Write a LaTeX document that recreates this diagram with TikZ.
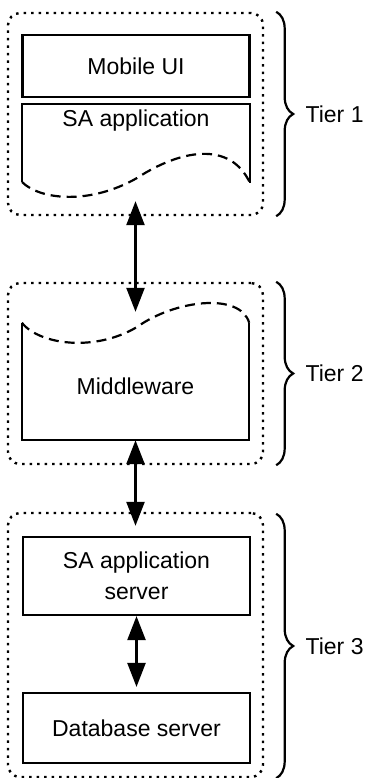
\documentclass[tikz,border=0pt]{standalone}
\usepackage{fontspec}
\setmainfont{Liberation Sans}
\usetikzlibrary{positioning, arrows.meta, decorations.pathreplacing}

\tikzset{
  tierbox/.style={draw, line width=2.4pt, dash pattern=on 2.5pt off 5pt,
                  rounded corners=12pt, minimum width=255pt},
  layerbox/.style={draw, line width=2.2pt, minimum width=227pt},
  wavy/.style={line width=2.2pt, dash pattern=on 10pt off 6pt},
  link/.style={line width=2.4pt,
               {Triangle[width=18pt,length=24pt]}-{Triangle[width=18pt,length=24pt]}},
  tierbrace/.style={decorate, decoration={brace, amplitude=17pt}, line width=2.2pt},
}

\begin{document}
\begin{tikzpicture}[x=1pt, y=-1pt, font=\fontsize{23}{31}\selectfont]
    \useasboundingbox (0,0) rectangle (372,778);

    % tiers
    \node[tierbox, minimum height=202pt] (tier1) at (135.5,114) {};
    \node[tierbox, minimum height=181pt] (tier2) at (135.5,373.5) {};
    \node[tierbox, minimum height=264pt] (tier3) at (135.5,645) {};

    % tier 1
    \node[layerbox, minimum height=62pt] (mobui) at (136,66) {Mobile UI};
    \node (saapp) at (136,121) {SA application};
    \draw[line width=2.2pt] (22,182) -- (22,104) -- (250,104) -- (250,183);
    \draw[wavy] (22,182) .. controls (40,200) and (90,205) .. (137,178)
                         .. controls (180,150) and (230,140) .. (250,183);

    % tier 2
    \node[minimum width=227pt, minimum height=117pt] (mw) at (135.5,381.5) {};
    \node (mwtext) at (135.5,386) {Middleware};
    \draw[line width=2.2pt] (mw.north west) -- (mw.south west) -- (mw.south east) -- (mw.north east);
    \draw[wavy] (mw.north west) .. controls (40,345) and (95,352) .. (137,327)
                                .. controls (175,300) and (240,292) .. (mw.north east);

    % tier 3
    \node[layerbox, minimum height=78pt, align=center] (appsrv) at (136.5,576) {SA application\\server};
    \node[layerbox, minimum height=70pt] (dbsrv) at (136.5,728) {Database server};

    % links
    \draw[link, shorten <=-15pt, shorten >=-30pt] (tier1.south) -- (tier2.north);
    \draw[link, shorten >=-14pt] (mw.south) -- (tier3.north);
    \draw[link, shorten >=5pt] (appsrv.south) -- (dbsrv.north);

    % braces
    \draw[tierbrace] ([xshift=12pt]tier1.north east) -- ([xshift=12pt]tier1.south east)
        node[midway, right=25pt] (lbl1) {Tier 1};
    \draw[tierbrace] ([xshift=12pt]tier2.north east) -- ([xshift=12pt]tier2.south east)
        node[midway, right=25pt] (lbl2) {Tier 2};
    \draw[tierbrace] ([xshift=12pt,yshift=-2pt]tier3.north east) -- ([xshift=12pt]tier3.south east)
        node[midway, right=25pt] (lbl3) {Tier 3};
\end{tikzpicture}
\end{document}
